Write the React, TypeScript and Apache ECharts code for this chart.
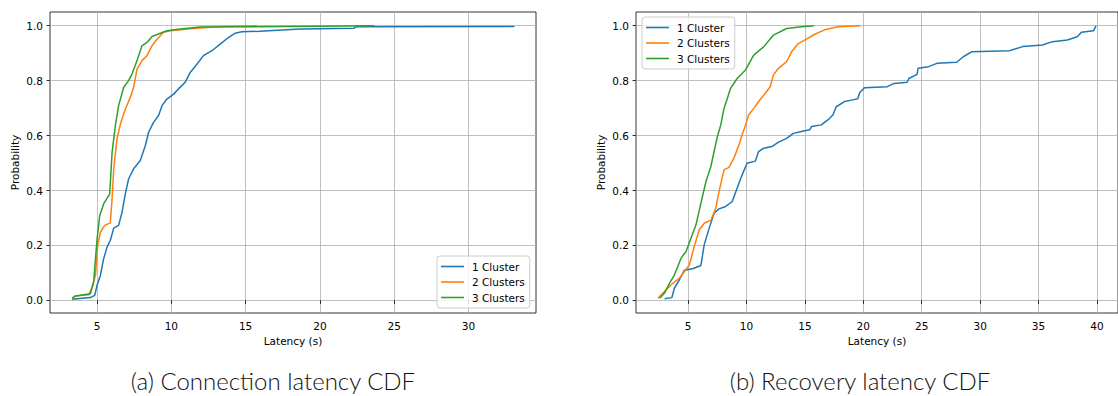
import React, { useEffect, useRef } from "react";
import * as echarts from "echarts";

const seriesNames = ["1 Cluster", "2 Clusters", "3 Clusters"];
const seriesColors = ["#1f77b4", "#ff7f0e", "#2ca02c"];

const xTicksConnection = [5, 10, 15, 20, 25, 30];
const xTicksRecovery = [5, 10, 15, 20, 25, 30, 35, 40];
const yTicks = [0, 0.2, 0.4, 0.6, 0.8, 1.0];

const captions = ["(a) Connection latency CDF", "(b) Recovery latency CDF"];

const connection1 = [
  [3.32, 0.004], [4.55, 0.01], [4.84, 0.018], [5.0, 0.055], [5.22, 0.09], [5.44, 0.151],
  [5.67, 0.194], [5.89, 0.218], [6.12, 0.263], [6.45, 0.273], [6.68, 0.321], [6.9, 0.388],
  [7.12, 0.442], [7.46, 0.479], [7.91, 0.509], [8.25, 0.564], [8.47, 0.612], [8.8, 0.648],
  [9.14, 0.673], [9.37, 0.709], [9.7, 0.733], [10.15, 0.751], [10.48, 0.77], [10.93, 0.794],
  [11.27, 0.83], [11.72, 0.86], [12.16, 0.891], [12.73, 0.909], [13.29, 0.933], [13.84, 0.957],
  [14.29, 0.973], [14.74, 0.978], [15.97, 0.98], [18.66, 0.988], [22.3, 0.991], [22.4, 0.996],
  [33.06, 0.997], [33.06, 1.0],
];
const connection2 = [
  [3.32, 0.006], [3.54, 0.016], [4.44, 0.02], [4.66, 0.048], [4.89, 0.09], [5.04, 0.2],
  [5.22, 0.248], [5.51, 0.273], [5.89, 0.282], [6.01, 0.37], [6.12, 0.479], [6.34, 0.588],
  [6.57, 0.642], [6.9, 0.697], [7.24, 0.739], [7.46, 0.776], [7.69, 0.842], [8.02, 0.873],
  [8.36, 0.891], [8.7, 0.927], [9.03, 0.951], [9.48, 0.976], [9.93, 0.982], [11.5, 0.99],
  [13.29, 0.997], [15.75, 1.0],
];
const connection3 = [
  [3.32, 0.008], [3.54, 0.016], [4.55, 0.024], [4.77, 0.067], [5.0, 0.224], [5.18, 0.309],
  [5.44, 0.351], [5.85, 0.388], [6.01, 0.539], [6.23, 0.636], [6.45, 0.709], [6.79, 0.776],
  [7.12, 0.8], [7.35, 0.824], [7.69, 0.873], [8.02, 0.927], [8.36, 0.939], [8.7, 0.961],
  [9.14, 0.97], [9.7, 0.982], [10.6, 0.988], [11.94, 0.995], [23.66, 1.0],
];

const recovery1 = [
  [2.99, 0.006], [3.61, 0.01], [3.84, 0.045], [4.26, 0.075], [4.69, 0.11], [5.39, 0.115],
  [6.1, 0.127], [6.38, 0.202], [6.81, 0.263], [7.23, 0.317], [7.65, 0.333], [8.22, 0.342],
  [8.78, 0.36], [9.2, 0.408], [9.63, 0.457], [10.05, 0.499], [10.76, 0.507], [11.04, 0.542],
  [11.47, 0.554], [12.17, 0.56], [12.74, 0.576], [13.44, 0.59], [14.01, 0.608], [14.71, 0.615],
  [15.42, 0.621], [15.56, 0.633], [16.4, 0.639], [16.97, 0.657], [17.4, 0.675], [17.68, 0.705],
  [18.39, 0.724], [19.09, 0.73], [19.52, 0.734], [19.7, 0.757], [20.1, 0.774], [22.06, 0.778],
  [22.63, 0.79], [23.75, 0.794], [23.9, 0.808], [24.6, 0.823], [24.69, 0.845], [25.59, 0.851],
  [26.3, 0.863], [27.99, 0.867], [28.56, 0.887], [29.26, 0.905], [32.51, 0.909], [33.64, 0.924],
  [35.34, 0.93], [36.19, 0.942], [37.46, 0.948], [38.31, 0.96], [38.67, 0.976], [39.71, 0.982],
  [39.92, 1.0],
];
const recovery2 = [
  [2.42, 0.008], [2.85, 0.027], [3.56, 0.057], [4.26, 0.081], [4.69, 0.105], [5.11, 0.129],
  [5.53, 0.196], [5.96, 0.257], [6.38, 0.281], [6.95, 0.292], [7.37, 0.335], [7.65, 0.396],
  [8.08, 0.475], [8.5, 0.484], [8.92, 0.517], [9.35, 0.566], [9.63, 0.603], [9.92, 0.639],
  [10.19, 0.675], [10.62, 0.699], [11.04, 0.724], [11.61, 0.754], [12.03, 0.778], [12.31, 0.821],
  [12.74, 0.845], [13.44, 0.869], [13.86, 0.905], [14.43, 0.935], [15.14, 0.951], [15.85, 0.969],
  [16.69, 0.985], [17.82, 0.996], [19.75, 1.0],
];
const recovery3 = [
  [2.57, 0.008], [2.99, 0.027], [3.42, 0.063], [3.84, 0.093], [4.41, 0.154], [4.83, 0.178],
  [5.25, 0.226], [5.68, 0.275], [6.1, 0.354], [6.53, 0.432], [6.95, 0.487], [7.23, 0.542],
  [7.51, 0.596], [7.8, 0.639], [8.08, 0.699], [8.36, 0.735], [8.64, 0.772], [9.2, 0.808],
  [9.92, 0.839], [10.62, 0.893], [11.47, 0.923], [12.31, 0.966], [13.44, 0.99], [14.71, 0.996],
  [15.76, 1.0],
];

const FONT = "DejaVu Sans";
const TEXT_SIZE = 10.5;

function makeXAxis(gridIndex: number, min: number, max: number, ticks: number[]) {
  return {
    type: "value",
    gridIndex,
    min,
    max,
    name: "Latency (s)",
    nameLocation: "middle",
    nameGap: 21,
    nameTextStyle: { fontFamily: FONT, fontSize: TEXT_SIZE, color: "#000" },
    axisLine: { show: false },
    axisTick: { show: true, inside: false, length: 3.5, customValues: ticks, lineStyle: { color: "#000", width: 0.8 } },
    axisLabel: {
      show: true,
      customValues: ticks,
      margin: 7,
      fontFamily: FONT,
      fontSize: TEXT_SIZE,
      color: "#000",
      formatter: (v: number) => String(v),
    },
    splitLine: { show: true, lineStyle: { color: "#b0b0b0", width: 0.8 } },
  };
}

function makeYAxis(gridIndex: number) {
  return {
    type: "value",
    gridIndex,
    min: -0.046,
    max: 1.05,
    name: "Probability",
    nameLocation: "middle",
    nameGap: 30,
    nameTextStyle: { fontFamily: FONT, fontSize: TEXT_SIZE, color: "#000" },
    axisLine: { show: false },
    axisTick: { show: true, inside: false, length: 3.5, customValues: yTicks, lineStyle: { color: "#000", width: 0.8 } },
    axisLabel: {
      show: true,
      customValues: yTicks,
      margin: 7,
      fontFamily: FONT,
      fontSize: TEXT_SIZE,
      color: "#000",
      formatter: (v: number) => v.toFixed(1),
    },
    splitLine: { show: true, lineStyle: { color: "#b0b0b0", width: 0.8 } },
  };
}

function makeLegend(left: number, top: number) {
  return {
    orient: "vertical",
    left,
    top,
    data: seriesNames.map((name, i) => ({ name, icon: "rect", itemStyle: { color: seriesColors[i] } })),
    itemWidth: 23,
    itemHeight: 1.6,
    itemGap: 4.5,
    padding: [5, 5, 5, 4],
    selectedMode: false,
    backgroundColor: "rgba(255,255,255,0.8)",
    borderColor: "#cccccc",
    borderWidth: 1,
    borderRadius: 3,
    textStyle: { fontFamily: FONT, fontSize: TEXT_SIZE, color: "#000", padding: [0, 0, 0, 3] },
  };
}

export default function App() {
  const ref = useRef<HTMLDivElement>(null);

  useEffect(() => {
    if (!ref.current) return;
    const chart = echarts.init(ref.current, undefined, { renderer: "svg" });

    const groups = [
      [connection1, connection2, connection3],
      [recovery1, recovery2, recovery3],
    ];
    const series: any[] = [];
    groups.forEach((group, gi) => {
      group.forEach((data, si) => {
        series.push({
          type: "line",
          name: seriesNames[si],
          xAxisIndex: gi,
          yAxisIndex: gi,
          data,
          symbol: "none",
          showSymbol: false,
          lineStyle: { color: seriesColors[si], width: 1.5 },
          itemStyle: { color: seriesColors[si] },
          z: 3 + si,
        });
      });
    });

    const captionStyle = (text: string) => ({
      text,
      fontFamily: "Lato",
      fontSize: 24,
      fontWeight: 300,
      fill: "#111",
      align: "center",
      verticalAlign: "middle",
    });

    chart.setOption({
      animation: false,
      backgroundColor: "#ffffff",
      grid: [
        { left: 50, top: 12, width: 486, height: 301, show: true, borderColor: "#000", borderWidth: 0.8, backgroundColor: "transparent", containLabel: false },
        { left: 636, top: 12, width: 487, height: 301, show: true, borderColor: "#000", borderWidth: 0.8, backgroundColor: "transparent", containLabel: false },
      ],
      xAxis: [
        makeXAxis(0, 1.83, 34.55, xTicksConnection),
        makeXAxis(1, 0.545, 41.8, xTicksRecovery),
      ],
      yAxis: [makeYAxis(0), makeYAxis(1)],
      legend: [makeLegend(437, 256), makeLegend(642, 17)],
      series,
      graphic: [
        { type: "text", x: 273, y: 380, style: captionStyle(captions[0]) },
        { type: "text", x: 860, y: 380, style: captionStyle(captions[1]) },
      ],
    });

    return () => chart.dispose();
  }, []);

  return (
    <div
      ref={ref}
      style={{ position: "absolute", left: 0, top: 0, width: 1118, height: 396, background: "#fff" }}
    />
  );
}
